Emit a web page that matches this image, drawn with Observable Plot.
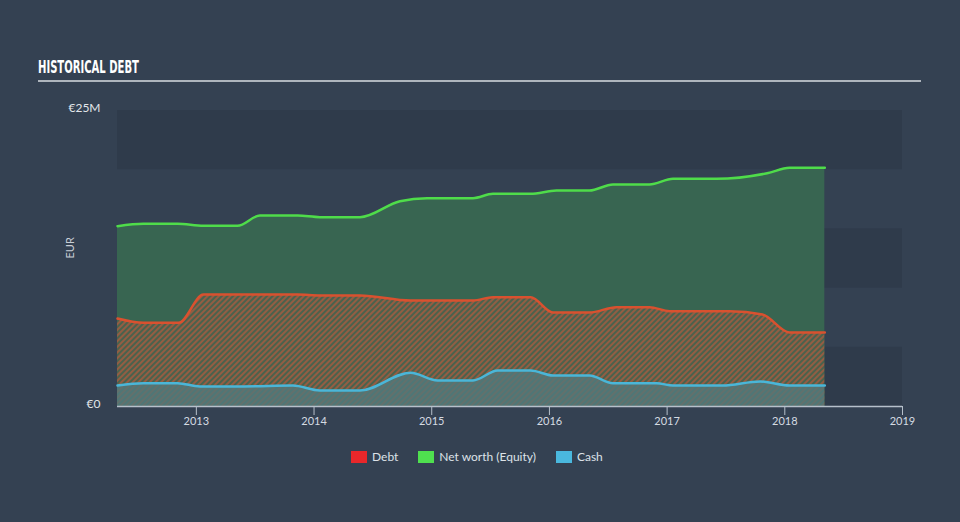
<!DOCTYPE html>
<html>
<head>
<meta charset="utf-8">
<script src="https://cdn.jsdelivr.net/npm/d3@7"></script>
<script src="https://cdn.jsdelivr.net/npm/@observablehq/plot@0.6"></script>
<style>
  html, body { margin: 0; padding: 0; background: #344152; }
  #wrap { position: relative; width: 960px; height: 522px; overflow: hidden; background: #344152; font-family: Lato, "Open Sans", sans-serif; }
  #title { position: absolute; left: 38px; top: 56px; font-family: "DejaVu Sans Condensed", "DejaVu Sans", sans-serif; font-weight: bold; font-size: 18px; color: #ffffff; transform: scaleX(0.62); transform-origin: left top; white-space: nowrap; }
  #rule { position: absolute; left: 38px; top: 80px; width: 883px; height: 2px; background: #aeb5bd; }
  #chart { position: absolute; left: 0; top: 95px; }
  #legend { position: absolute; left: 351px; top: 449px; display: flex; align-items: center; font-size: 12px; color: #dde2e8; }
  .item { display: flex; align-items: center; margin-right: 20px; }
  .sw { width: 16px; height: 12px; margin-right: 5px; }
</style>
</head>
<body>
<div id="wrap">
  <div id="title">HISTORICAL DEBT</div>
  <div id="rule"></div>
  <div id="chart"></div>
  <div id="legend"></div>
</div>
<script>
// ---- data (values in € millions, dates in decimal years) ----
const equityX = [2012.33,2012.55,2012.84,2013.06,2013.35,2013.54,2013.86,2014.05,2014.39,2014.73,2014.96,2015.35,2015.52,2015.84,2016.06,2016.34,2016.54,2016.85,2017.05,2017.42,2017.85,2018.04,2018.34];
const equityY = [15.23,15.43,15.43,15.26,15.26,16.13,16.13,15.99,15.99,17.34,17.59,17.59,17.96,17.96,18.24,18.24,18.75,18.75,19.23,19.23,19.70,20.16,20.16];

const debtX = [2012.33,2012.55,2012.85,2013.06,2013.86,2014.05,2014.39,2014.82,2015.35,2015.52,2015.84,2016.03,2016.34,2016.57,2016.85,2017.02,2017.53,2017.81,2018.04,2018.34];
const debtY = [7.43,7.07,7.07,9.46,9.46,9.38,9.38,8.95,8.95,9.23,9.23,7.94,7.94,8.39,8.39,8.05,8.05,7.77,6.25,6.25];

const cashX = [2012.33,2012.55,2012.84,2013.03,2013.40,2013.82,2014.05,2014.39,2014.82,2015.05,2015.35,2015.56,2015.84,2016.03,2016.34,2016.54,2016.91,2017.05,2017.47,2017.79,2018.04,2018.34];
const cashY = [1.77,1.97,1.97,1.69,1.69,1.77,1.35,1.35,2.85,2.20,2.20,3.04,3.04,2.62,2.62,1.97,1.97,1.77,1.77,2.11,1.77,1.77];

const xTicks = [2013, 2014, 2015, 2016, 2017, 2018, 2019];
const yTicks = [0, 25];
const yTickLabels = ["€0", "€25M"];
const bandLo = [0, 10, 20];
const bandHi = [5, 15, 25];
const seriesNames = ["Debt", "Net worth (Equity)", "Cash"];
const seriesColors = ["#e8272a", "#4fe04f", "#4ab8de"];

// ---- build tables ----
const equity = equityX.map((x, i) => ({x, y: equityY[i]}));
const debt = debtX.map((x, i) => ({x, y: debtY[i]}));
const cash = cashX.map((x, i) => ({x, y: cashY[i]}));
const bands = bandLo.map((lo, i) => ({lo, hi: bandHi[i]}));

const chart = Plot.plot({
  width: 960,
  height: 345,
  marginLeft: 117,
  marginRight: 58,
  marginTop: 15,
  marginBottom: 34,
  style: {background: "transparent", color: "#d5dbe2", fontFamily: "Lato, 'Open Sans', sans-serif"},
  x: {type: "linear", domain: [2012.33, 2019], label: null},
  y: {domain: [0, 25], label: null},
  marks: [
    Plot.rect(bands, {y1: "lo", y2: "hi", fill: "#2f3b4b"}),
    Plot.areaY(equity, {x: "x", y: "y", curve: "monotone-x", fill: "#386551", fillOpacity: 1}),
    Plot.areaY(debt, {x: "x", y: "y", curve: "monotone-x", fill: "url(#debtHatch)"}),
    Plot.areaY(cash, {x: "x", y: "y", curve: "monotone-x", fill: "url(#cashHatch)"}),
    Plot.lineY(equity, {x: "x", y: "y", curve: "monotone-x", stroke: "#4fdc4a", strokeWidth: 2.5}),
    Plot.lineY(debt, {x: "x", y: "y", curve: "monotone-x", stroke: "#d9512f", strokeWidth: 2.5}),
    Plot.lineY(cash, {x: "x", y: "y", curve: "monotone-x", stroke: "#4ab6d8", strokeWidth: 2.5}),
    Plot.ruleY([0], {stroke: "#b6c0cb", strokeWidth: 1.5}),
    Plot.axisX({ticks: xTicks, tickFormat: d => String(d), tickSize: 9, tickPadding: 2, stroke: "#b6c0cb", fill: "#d5dbe2", fontSize: 11, label: null}),
    Plot.axisY({ticks: yTicks, tickFormat: d => yTickLabels[yTicks.indexOf(d)], tickSize: 0, tickPadding: 17, dy: -2, fill: "#e2e6ea", fontSize: 12, label: null}),
    Plot.text(["EUR"], {frameAnchor: "left", dx: -47, rotate: -90, fill: "#c8ced6", fontSize: 11})
  ]
});

// pattern definitions for hatched areas
const NS = "http://www.w3.org/2000/svg";
const defs = document.createElementNS(NS, "defs");
function hatch(id, bg, stroke, sw) {
  const p = document.createElementNS(NS, "pattern");
  p.setAttribute("id", id);
  p.setAttribute("patternUnits", "userSpaceOnUse");
  p.setAttribute("width", "4");
  p.setAttribute("height", "4");
  p.setAttribute("patternTransform", "rotate(45)");
  const r = document.createElementNS(NS, "rect");
  r.setAttribute("width", "4"); r.setAttribute("height", "4"); r.setAttribute("fill", bg);
  const l = document.createElementNS(NS, "line");
  l.setAttribute("x1", "1"); l.setAttribute("y1", "0"); l.setAttribute("x2", "1"); l.setAttribute("y2", "4");
  l.setAttribute("stroke", stroke); l.setAttribute("stroke-width", sw);
  p.appendChild(r); p.appendChild(l);
  defs.appendChild(p);
}
hatch("debtHatch", "#4a624d", "#a65c40", "1.6");
hatch("cashHatch", "#4f7676", "#66706a", "1.6");
chart.insertBefore(defs, chart.firstChild);

document.getElementById("chart").appendChild(chart);

// legend
const legend = document.getElementById("legend");
seriesNames.forEach((name, i) => {
  const item = document.createElement("div");
  item.className = "item";
  const sw = document.createElement("div");
  sw.className = "sw";
  sw.style.background = seriesColors[i];
  const t = document.createElement("span");
  t.textContent = name;
  item.appendChild(sw); item.appendChild(t);
  legend.appendChild(item);
});
</script>
</body>
</html>
